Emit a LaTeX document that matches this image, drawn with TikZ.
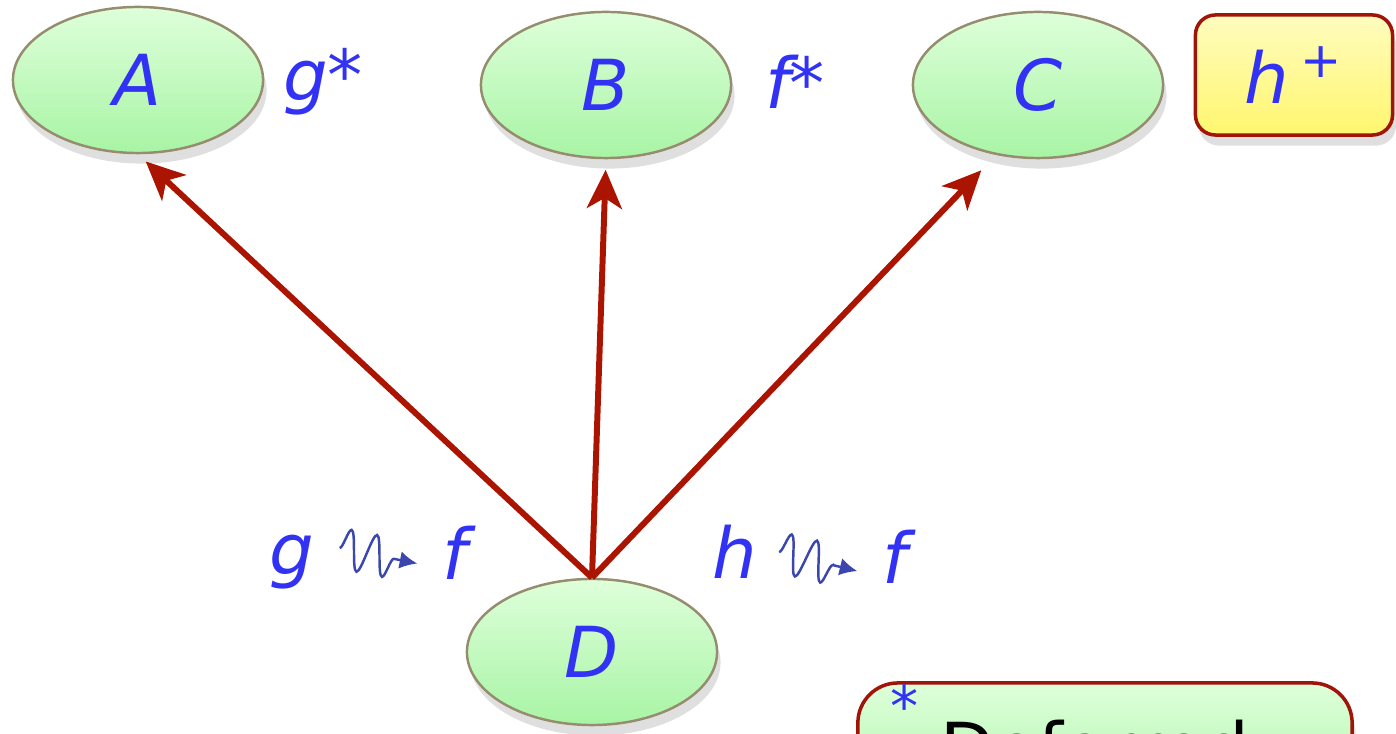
\documentclass[tikz,border=0pt]{standalone}
\usepackage{fontspec}
\setmainfont{DejaVu Sans}
\usepackage{xcolor}
\usetikzlibrary{arrows.meta,positioning,shapes.geometric,shadows,decorations.pathmorphing}
\definecolor{LabBlue}{RGB}{50,50,245}
\definecolor{WaveCol}{RGB}{60,70,175}
\definecolor{ArrRed}{RGB}{170,20,0}
\definecolor{EdgeCol}{RGB}{150,140,110}
\definecolor{BoxEdge}{RGB}{160,20,10}
\definecolor{GreenFill}{RGB}{168,244,165}
\definecolor{GreenLt}{RGB}{222,255,218}
\definecolor{YelFill}{RGB}{255,246,110}
\definecolor{YelLt}{RGB}{255,252,190}
\tikzset{
  dgell/.style={ellipse, draw=EdgeCol, line width=0.7pt, top color=GreenLt, bottom color=GreenFill,
    minimum width=2.5cm, minimum height=1.46cm, inner sep=0pt,
    drop shadow={shadow xshift=1pt, shadow yshift=-3pt, opacity=0.25},
    font=\fontsize{20}{24}\selectfont\itshape, text=LabBlue},
  dglab/.style={font=\fontsize{20}{24}\selectfont\itshape, text=LabBlue, inner sep=1pt},
  dgarrow/.style={-{Stealth[length=11pt,width=10pt,inset=3pt]}, line width=1.7pt, draw=ArrRed},
  dgwave/.style={-{Latex[length=5pt,width=5pt]}, line width=0.7pt, draw=WaveCol,
    decorate, decoration={snake, amplitude=0.2cm, segment length=0.26cm, post length=0.16cm}},
  dgbox/.style={rectangle, rounded corners=0.2cm, draw=BoxEdge, line width=1pt,
    drop shadow={shadow xshift=1pt, shadow yshift=-3pt, opacity=0.25}}
}
\begin{document}
\begin{tikzpicture}[x=0.01cm,y=-0.01cm]
  \useasboundingbox (0,0) rectangle (1396,734);
  \clip (0,0) rectangle (1396,734);
  % classes
  \node[dgell] (A) at (138,80) {A};
  \node[dgell] (B) at (606,85) {B};
  \node[dgell] (C) at (1038,85) {C};
  \node[dgell] (D) at (592,652) {D};
  \node[dglab] (gstar) at (323,82) {g*};
  \node[dglab] (fstar) at (795,82) {f*};
  \node[dgbox, top color=YelLt, bottom color=YelFill, minimum width=1.97cm, minimum height=1.2cm,
    font=\fontsize{20}{24}\selectfont\itshape, text=LabBlue] (hplus) at (1294,75) {h\,\textsuperscript{+}\hspace{0.7cm}};
  % inheritance
  \draw[dgarrow, shorten >=3pt] (D.north) -- (A.south);
  \draw[dgarrow, shorten >=3pt] (D.north) -- (B.south);
  \draw[dgarrow, shorten >=6pt] (D.north) -- (C.-121);
  % renaming
  \node[dglab] (g1) at (292,562) {g};
  \node[dglab] (f1) at (455,553) {f};
  \node[dglab] (h2) at (735,552) {h};
  \node[dglab] (f2) at (895,557) {f};
  \draw[dgwave] ([xshift=6pt,yshift=4pt]g1.east) -- ([xshift=-6pt,yshift=-3pt]f1.west);
  \draw[dgwave] ([xshift=5pt]h2.east) -- ([xshift=-6pt,yshift=-4pt]f2.west);
  % note
  \node[dgbox, rounded corners=0.4cm, top color=GreenLt, bottom color=GreenFill,
    minimum width=4.94cm, minimum height=1.4cm] (defbox) at (1105,753) {};
  \node[dglab, font=\fontsize{16}{18}\selectfont] (ast) at (905,706) {*};
  \node[font=\fontsize{20}{24}\selectfont, anchor=base west, inner sep=0pt] (deftext) at (940,774) {Deferred};
\end{tikzpicture}
\end{document}
